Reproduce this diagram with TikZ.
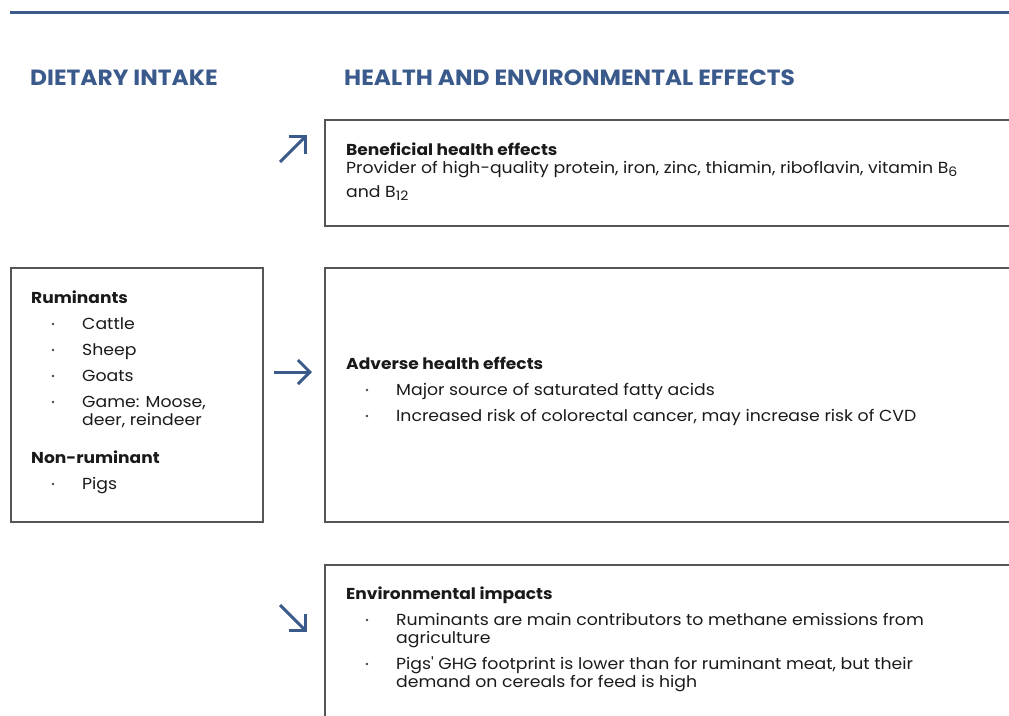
\documentclass[tikz,border=0pt]{standalone}
\usepackage{fontspec}
\setmainfont{Poppins}[FakeStretch=1.08]
\newfontfamily\headfont{Poppins}[FakeStretch=1.06]
\usetikzlibrary{arrows.meta}
\definecolor{hblue}{HTML}{3A5A8C}
\definecolor{boxgray}{HTML}{555555}
\definecolor{txtc}{HTML}{1A1A1A}
\newcommand\lowsub[1]{\raisebox{-3.5pt}{\fontsize{13}{13}\selectfont #1}}
\begin{document}
\begin{tikzpicture}[x=1pt,y=-1pt,
 box/.style={draw=boxgray,line width=1.5pt,rectangle,anchor=north west,inner sep=0pt,outer sep=0pt},
 head/.style={anchor=base west,inner sep=0pt,text=hblue,font=\headfont\fontsize{22}{26}\selectfont\bfseries},
 lbl/.style={anchor=base west,inner sep=0pt,text=txtc,font=\fontsize{15.8}{18}\selectfont\bfseries},
 body/.style={anchor=base west,inner sep=0pt,text=txtc,font=\fontsize{16}{18}\selectfont},
 bul/.style={circle,fill=txtc!80,inner sep=0pt,minimum size=2.8pt},
 arr/.style={draw=hblue,line width=3pt,-{Straight Barb[angle=90:14pt 1]}}
]
\useasboundingbox (0,0) rectangle (1009,715);
\clip (0,0) rectangle (1009,715);
% top rule
\coordinate (ruleL) at (10,12);
\coordinate (ruleR) at (1012,12);
\draw[hblue,line width=3pt] (ruleL) -- (ruleR);
% headings
\node[head] (h1) at (30,85) {DIETARY INTAKE};
\node[head] (h2) at (344,85) {HEALTH AND ENVIRONMENTAL EFFECTS};
% boxes
\node[box,minimum width=252pt,minimum height=254pt] (intake) at (11,268) {};
\node[box,minimum width=720pt,minimum height=106pt] (benef) at (325,120) {};
\node[box,minimum width=720pt,minimum height=254pt] (adverse) at (325,268) {};
\node[box,minimum width=720pt,minimum height=200pt] (env) at (325,565) {};
% intake text
\node[lbl] (rum) at (31,303) {Ruminants};
\node[bul] (b1) at (53,324) {}; \node[body] (t1) at (82,329) {Cattle};
\node[bul] (b2) at (53,350) {}; \node[body] (t2) at (82,355) {Sheep};
\node[bul] (b3) at (53,376) {}; \node[body] (t3) at (82,381) {Goats};
\node[bul] (b4) at (53,402) {}; \node[body] (t4) at (82,407) {Game: Moose,};
\node[body] (t4b) at (82,425) {deer, reindeer};
\node[lbl] (nonrum) at (31,463) {Non-ruminant};
\node[bul] (b5) at (53,484) {}; \node[body] (t5) at (82,489) {Pigs};
% beneficial
\node[lbl] (benh) at (346,155) {Beneficial health effects};
\node[body] (bent) at (346,173) {Provider of high-quality protein, iron, zinc, thiamin, riboflavin, vitamin B\lowsub{6}};
\node[body] (bent2) at (346,197) {and B\lowsub{12}};
% adverse
\node[lbl] (advh) at (346,369) {Adverse health effects};
\node[bul] (b6) at (367,390) {}; \node[body] (a1) at (396,395) {Major source of saturated fatty acids};
\node[bul] (b7) at (367,416) {}; \node[body] (a2) at (396,421) {Increased risk of colorectal cancer, may increase risk of CVD};
% environmental
\node[lbl] (envh) at (346,599) {Environmental impacts};
\node[bul] (b8) at (367,620) {}; \node[body] (e1) at (396,625) {Ruminants are main contributors to methane emissions from};
\node[body] (e1b) at (396,643) {agriculture};
\node[bul] (b9) at (367,664) {}; \node[body] (e2) at (396,669) {Pigs\textquotesingle{} GHG footprint is lower than for ruminant meat, but their};
\node[body] (e2b) at (396,687) {demand on cereals for feed is high};
% arrows
\coordinate (u0) at (280,162); \coordinate (u1) at (307,135);
\coordinate (r0) at (274,372); \coordinate (r1) at (312,372);
\coordinate (d0) at (280,605); \coordinate (d1) at (307,632);
\draw[arr] (u0) -- (u1);
\draw[arr] (r0) -- (r1);
\draw[arr] (d0) -- (d1);
\end{tikzpicture}
\end{document}
